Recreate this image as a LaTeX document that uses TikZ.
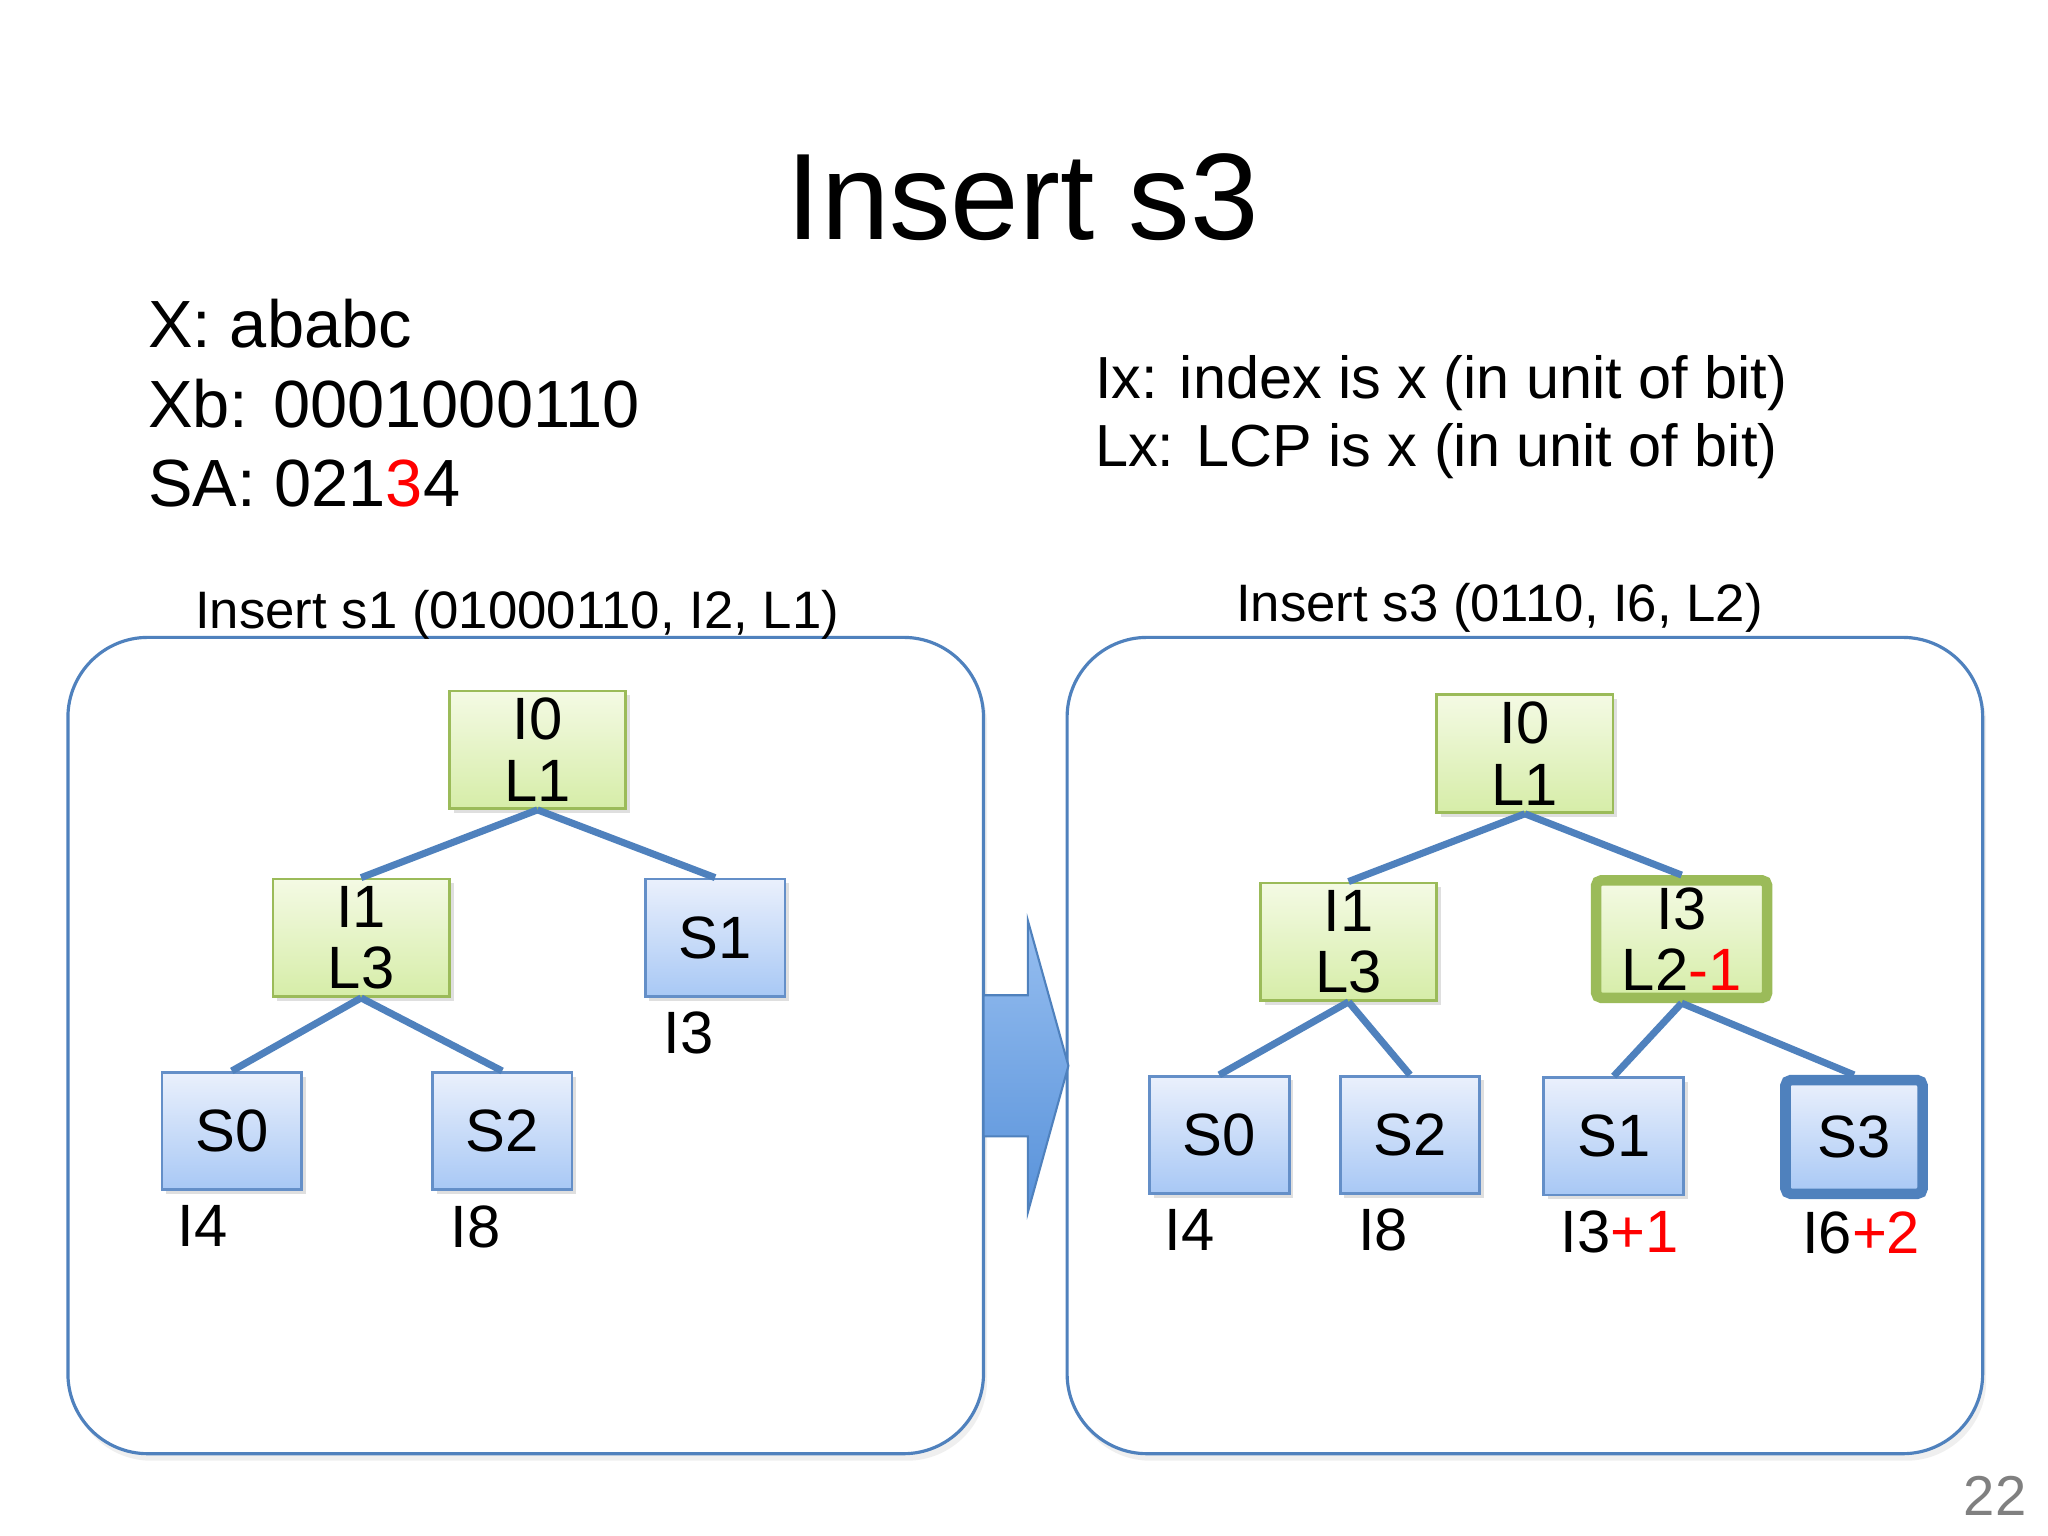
\documentclass[tikz,border=0pt]{standalone}
\usepackage{fontspec}
\setmainfont{Liberation Sans}
\usetikzlibrary{shadows}
\definecolor{edgeblue}{RGB}{79,129,189}
\definecolor{boxblueborder}{RGB}{100,143,200}
\definecolor{greenborder}{RGB}{155,187,89}
\definecolor{greentop}{RGB}{244,250,228}
\definecolor{greenbot}{RGB}{214,237,168}
\definecolor{bluetop}{RGB}{234,240,252}
\definecolor{bluebot}{RGB}{168,200,245}
\definecolor{arrtop}{RGB}{150,190,240}
\definecolor{arrbot}{RGB}{88,146,218}
\definecolor{pagegray}{RGB}{128,128,128}
\definecolor{hlred}{RGB}{255,0,0}
\begin{document}
\begin{tikzpicture}[x=0.01306cm, y=-0.01306cm,
  panel/.style={draw=edgeblue, line width=0.9pt, rounded corners=0.8cm, fill=white,
    drop shadow={opacity=0.12, shadow xshift=1pt, shadow yshift=-2pt}},
  boxshadow/.style={drop shadow={opacity=0.25, shadow xshift=1.2pt, shadow yshift=-1.2pt}},
  inode/.style={draw=greenborder, line width=0.8pt, top color=greentop, bottom color=greenbot,
    minimum width=1.763cm, minimum height=1.175cm, inner sep=0pt, align=center,
    font=\fontsize{17}{17.5}\selectfont, boxshadow},
  snode/.style={draw=boxblueborder, line width=0.8pt, top color=bluetop, bottom color=bluebot,
    minimum width=1.397cm, minimum height=1.175cm, inner sep=0pt, align=center,
    font=\fontsize{17}{18}\selectfont, boxshadow},
  inodehl/.style={inode, draw=greenborder, line width=3pt, rounded corners=1.5pt,
    minimum width=1.711cm, minimum height=1.175cm},
  snodehl/.style={snode, draw=edgeblue, line width=3pt, rounded corners=1.5pt,
    minimum width=1.371cm, minimum height=1.136cm},
  edge/.style={draw=edgeblue, line width=2pt},
  lbl/.style={inner sep=0pt, font=\fontsize{17}{18}\selectfont},
  subt/.style={anchor=base west, inner sep=0pt, font=\fontsize{15}{18}\selectfont},
]
\fill[white] (0,0) rectangle (1568,1176);
\useasboundingbox (0,0) rectangle (1568,1176);

% title and texts
\node[anchor=base, inner sep=0pt, font=\fontsize{35}{40}\selectfont] (title) at (783,183) {Insert s3};
\node[anchor=base west, inner sep=0pt, font=\fontsize{19}{22}\selectfont] (tX) at (113,266) {X: ababc};
\node[anchor=base west, inner sep=0pt, font=\fontsize{19}{22}\selectfont] (tXb) at (113,327) {Xb: 0001000110};
\node[anchor=base west, inner sep=0pt, font=\fontsize{19}{22}\selectfont] (tSA) at (113,388) {SA: 021{\color{hlred}3}4};
\node[anchor=base west, inner sep=0pt, font=\fontsize{16.9}{20}\selectfont] (tIx) at (838,305) {Ix: index is x (in unit of bit)};
\node[anchor=base west, inner sep=0pt, font=\fontsize{16.9}{20}\selectfont] (tLx) at (838,357) {Lx: LCP is x (in unit of bit)};
\node[anchor=base east, inner sep=0pt, text=pagegray, font=\fontsize{16}{18}\selectfont] (page) at (1552,1160) {22};

% panels
\path[panel] (52,488) rectangle (753,1113);
\path[panel] (817,488) rectangle (1518,1113);
\node[subt] (subL) at (149,481) {Insert s1 (01000110, I2, L1)};
\node[subt] (subR) at (946,476) {Insert s3 (0110, I6, L2)};

% arrow
\draw[draw=edgeblue, line width=0.6pt, top color=arrtop, bottom color=arrbot]
  (753,762) -- (787,762) -- (787,705) -- (818,816) -- (787,928) -- (787,870) -- (753,870) -- cycle;

% left tree
\node[inode] (L0) at (411.5,574) {I0\\L1};
\node[inode] (L1) at (276.5,718) {I1\\L3};
\node[snode] (LS1) at (547.5,718) {S1};
\node[snode] (LS0) at (177.5,866) {S0};
\node[snode] (LS2) at (384.5,866) {S2};
\draw[edge] (L0.south) -- (L1.north);
\draw[edge] (L0.south) -- (LS1.north);
\draw[edge] (L1.south) -- (LS0.north);
\draw[edge] (L1.south) -- (LS2.north);
\node[lbl] (lI3) at (527,791) {I3};
\node[lbl] (lI4) at (155,939) {I4};
\node[lbl] (lI8) at (364,939) {I8};

% right tree
\node[inode] (R0) at (1167.5,577) {I0\\L1};
\node[inode] (R1) at (1032.5,721) {I1\\L3};
\node[inodehl] (R3) at (1287.5,719) {I3\\L2{\color{hlred}-1}};
\node[snode] (RS0) at (933.5,869) {S0};
\node[snode] (RS2) at (1079.5,869) {S2};
\node[snode] (RS1) at (1235.5,870) {S1};
\node[snodehl] (RS3) at (1419.5,870.5) {S3};
\draw[edge] (R0.south) -- (R1.north);
\draw[edge] (R0.south) -- (R3.north);
\draw[edge] (R1.south) -- (RS0.north);
\draw[edge] (R1.south) -- (RS2.north);
\draw[edge] (R3.south) -- (RS1.north);
\draw[edge] (R3.south) -- (RS3.north);
\node[lbl] (rI4) at (911,942) {I4};
\node[lbl] (rI8) at (1059,942) {I8};
\node[lbl] (rI3) at (1240,943) {I3{\color{hlred}+1}};
\node[lbl] (rI6) at (1425,944) {I6{\color{hlred}+2}};
\end{tikzpicture}
\end{document}
